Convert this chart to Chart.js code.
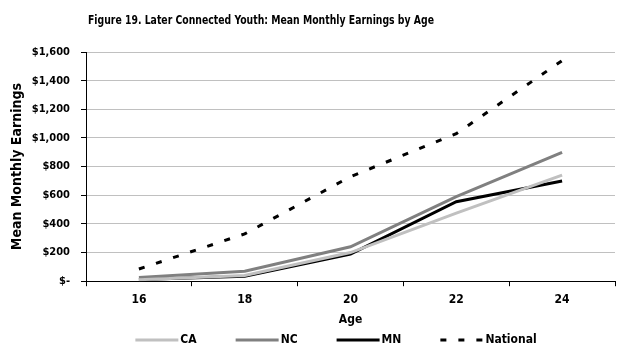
<!DOCTYPE html>
<html lang="en">
<head>
    <meta charset="UTF-8">
    <title>Figure 19. Later Connected Youth: Mean Monthly Earnings by Age</title>
    <script src="https://cdn.jsdelivr.net/npm/chart.js"></script>
    <style>
        body { margin: 0; background: #fff; }
        #wrap { width: 624px; height: 360px; }
    </style>
</head>
<body>
    <div id="wrap"><canvas id="chart"></canvas></div>
    <script>
        const chartTitle = "Figure 19. Later Connected Youth: Mean Monthly Earnings by Age";
        const ages = ["16", "18", "20", "22", "24"];
        const caEarnings = [10, 40, 200, 475, 740];
        const ncEarnings = [25, 70, 240, 590, 900];
        const mnEarnings = [12, 35, 190, 555, 700];
        const nationalEarnings = [85, 330, 730, 1030, 1540];

        const fontFamily = '"DejaVu Sans Condensed", "Liberation Sans", Arial, sans-serif';

        // title sits left of centre in the original, and the font there is narrow
        const titlePlugin = {
            id: 'figTitle',
            afterDraw(chart) {
                const ctx = chart.ctx;
                ctx.save();
                ctx.font = 'bold 13px ' + fontFamily;
                ctx.fillStyle = '#000';
                ctx.textAlign = 'center';
                ctx.textBaseline = 'middle';
                ctx.fillText(chartTitle, 261, 21, 346);
                ctx.restore();
            }
        };

        // legend drawn by hand so the spacing between items can be wide while staying low
        const legendPlugin = {
            id: 'lineLegend',
            afterDraw(chart) {
                const ctx = chart.ctx;
                const lineLen = 43, textGap = 2, itemGap = 39, y = 340;
                ctx.save();
                ctx.font = 'bold 12px ' + fontFamily;
                const sets = chart.data.datasets;
                const widths = sets.map(ds => lineLen + textGap + ctx.measureText(ds.label).width);
                const total = widths.reduce((a, b) => a + b, 0) + itemGap * (sets.length - 1);
                let x = 336 - total / 2;
                sets.forEach((ds, i) => {
                    ctx.beginPath();
                    ctx.strokeStyle = ds.borderColor;
                    ctx.lineWidth = ds.borderWidth;
                    ctx.setLineDash(ds.borderDash || []);
                    ctx.moveTo(x, y);
                    ctx.lineTo(x + lineLen, y);
                    ctx.stroke();
                    ctx.setLineDash([]);
                    ctx.fillStyle = '#000';
                    ctx.textAlign = 'left';
                    ctx.textBaseline = 'middle';
                    ctx.fillText(ds.label, x + lineLen + textGap, y);
                    x += widths[i] + itemGap;
                });
                ctx.restore();
            }
        };

        function money(v) {
            if (v === 0) return '$-';
            return '$' + v.toLocaleString('en-US');
        }

        new Chart(document.getElementById('chart'), {
            type: 'line',
            data: {
                labels: ages,
                datasets: [
                    { label: 'CA', data: caEarnings, borderColor: '#c0c0c0', backgroundColor: '#c0c0c0', borderWidth: 3 },
                    { label: 'NC', data: ncEarnings, borderColor: '#808080', backgroundColor: '#808080', borderWidth: 3 },
                    { label: 'MN', data: mnEarnings, borderColor: '#000000', backgroundColor: '#000000', borderWidth: 3 },
                    { label: 'National', data: nationalEarnings, borderColor: '#000000', backgroundColor: '#000000', borderWidth: 3, borderDash: [6, 12] }
                ]
            },
            options: {
                responsive: true,
                maintainAspectRatio: false,
                animation: false,
                elements: { point: { radius: 0 }, line: { tension: 0 } },
                layout: { padding: { top: 52, right: 9, left: 10, bottom: 33 } },
                plugins: {
                    title: { display: false },
                    tooltip: { enabled: false },
                    legend: { display: false }
                },
                scales: {
                    x: {
                        offset: true,
                        grid: { display: true, offset: true, drawOnChartArea: false, color: '#000', tickLength: 5 },
                        border: { color: '#000', width: 1 },
                        ticks: { color: '#000', font: { family: fontFamily, size: 12, weight: 'bold' }, padding: 6 },
                        title: { display: true, text: 'Age', color: '#000', font: { family: fontFamily, size: 12, weight: 'bold' }, padding: { top: 0, bottom: 0 } }
                    },
                    y: {
                        min: 0,
                        max: 1600,
                        afterFit: (scale) => { scale.width = 76; },
                        grid: { color: '#c0c0c0', tickColor: '#000', tickLength: 5 },
                        border: { color: '#000', width: 1 },
                        ticks: { stepSize: 200, color: '#000', callback: money, font: { family: fontFamily, size: 11, weight: 'bold' }, padding: 11 },
                        title: { display: true, text: 'Mean Monthly Earnings', color: '#000', font: { family: fontFamily, size: 14, weight: 'bold', lineHeight: 1 }, padding: 0 }
                    }
                }
            },
            plugins: [titlePlugin, legendPlugin]
        });
    </script>
</body>
</html>
